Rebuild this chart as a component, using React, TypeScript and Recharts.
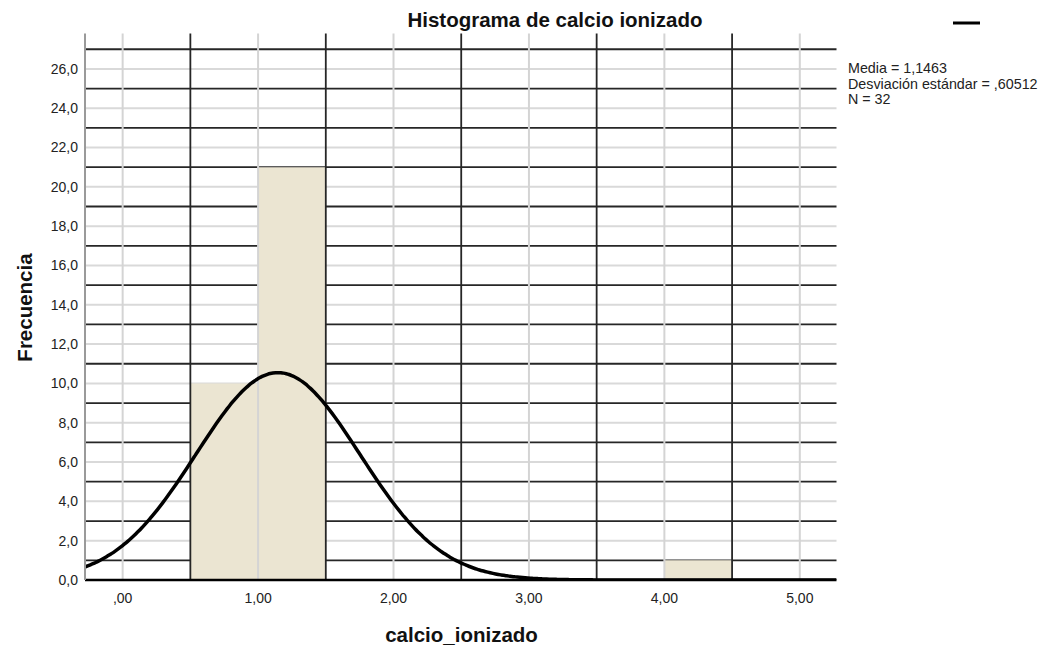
import React from 'react';
import {
  ComposedChart,
  Line,
  XAxis,
  YAxis,
  ReferenceArea,
  ReferenceLine,
} from 'recharts';

// histogram bins (lower edge) and counts
const binStarts = [0.5, 1.0, 1.5, 2.0, 2.5, 3.0, 3.5, 4.0];
const binCounts = [10, 21, 0, 0, 0, 0, 0, 1];
const binWidth = 0.5;

// fitted normal curve parameters shown in the legend
const mean = 1.1463;
const sd = 0.60512;
const n = 32;

const xTicks = [0, 1, 2, 3, 4, 5];
const xTickLabels = [',00', '1,00', '2,00', '3,00', '4,00', '5,00'];
const yTicks = [0, 2, 4, 6, 8, 10, 12, 14, 16, 18, 20, 22, 24, 26];
const yTickLabels = ['0,0', '2,0', '4,0', '6,0', '8,0', '10,0', '12,0', '14,0', '16,0', '18,0', '20,0', '22,0', '24,0', '26,0'];

const statLines = ['Media = 1,1463', 'Desviación estándar = ,60512', 'N = 32'];

const xDomain: [number, number] = [-0.278, 5.271];
const yDomain: [number, number] = [0, 27.8];

const lightX = [0, 1, 2, 3, 4, 5];
const darkX = [0.5, 1.5, 2.5, 3.5, 4.5];
const lightY = [2, 4, 6, 8, 10, 12, 14, 16, 18, 20, 22, 24, 26];
const darkY = [1, 3, 5, 7, 9, 11, 13, 15, 17, 19, 21, 23, 25, 27];

// normal density scaled to counts, from the stated mean / sd / N
function normalCurve() {
  const pts = [];
  const steps = 280;
  for (let i = 0; i <= steps; i++) {
    const x = xDomain[0] + ((xDomain[1] - xDomain[0]) * i) / steps;
    const z = (x - mean) / sd;
    const y = (n * binWidth * Math.exp(-0.5 * z * z)) / (sd * Math.sqrt(2 * Math.PI));
    pts.push({ x, y });
  }
  return pts;
}

const FONT = '"Liberation Sans", Arial, sans-serif';

export default function App() {
  const data = normalCurve();

  return (
    <div style={{ position: 'absolute', left: 0, top: 0, width: 1043, height: 648, background: '#fff' }}>
      <ComposedChart
        width={1043}
        height={648}
        data={data}
        margin={{ top: 33.5, right: 206.5, bottom: 28, left: 25 }}
      >
        <XAxis
          dataKey="x"
          type="number"
          domain={xDomain}
          ticks={xTicks}
          allowDataOverflow
          height={40}
          tickSize={0}
          tickMargin={13}
          tickFormatter={(v: number) => xTickLabels[xTicks.indexOf(v)] ?? ''}
          tick={{ fill: '#222', fontSize: 14, fontFamily: FONT }}
          axisLine={{ stroke: '#000', strokeWidth: 2.5 }}
          tickLine={false}
        />
        <YAxis
          type="number"
          domain={yDomain}
          ticks={yTicks}
          allowDataOverflow
          width={60}
          tickSize={0}
          tickMargin={7}
          tickFormatter={(v: number) => yTickLabels[yTicks.indexOf(v)] ?? ''}
          tick={{ fill: '#222', fontSize: 14, fontFamily: FONT }}
          axisLine={{ stroke: '#9a9a9a', strokeWidth: 2 }}
          tickLine={false}
        />

        {lightY.map((v) => (
          <ReferenceLine key={'ly' + v} y={v} stroke="#d9d9d9" strokeWidth={2} zIndex={50} />
        ))}
        {darkY.map((v) => (
          <ReferenceLine key={'dy' + v} y={v} stroke="#262626" strokeWidth={1.8} zIndex={55} />
        ))}

        {binStarts.map((b, i) =>
          binCounts[i] > 0 ? (
            <ReferenceArea
              key={'bin' + b}
              x1={b}
              x2={b + binWidth}
              y1={0}
              y2={binCounts[i]}
              fill="#ebe5d2"
              fillOpacity={1}
              stroke="none"
              zIndex={100}
            />
          ) : null
        )}

        {lightX.map((v) => (
          <ReferenceLine key={'lx' + v} x={v} stroke="#d4d4d4" strokeWidth={2} zIndex={150} />
        ))}
        {darkX.map((v) => (
          <ReferenceLine key={'dx' + v} x={v} stroke="#262626" strokeWidth={1.8} zIndex={155} />
        ))}

        <Line
          dataKey="y"
          type="monotone"
          stroke="#000"
          strokeWidth={3.5}
          dot={false}
          activeDot={false}
          isAnimationActive={false}
          zIndex={400}
        />
      </ComposedChart>

      <svg
        width={1043}
        height={648}
        style={{ position: 'absolute', left: 0, top: 0, pointerEvents: 'none' }}
        fontFamily={FONT}
      >
        <text x={555} y={27} textAnchor="middle" fontSize={20.5} fontWeight="bold" fill="#111">
          Histograma de calcio ionizado
        </text>
        <text
          x={0}
          y={0}
          transform="translate(32,307.5) rotate(-90)"
          textAnchor="middle"
          fontSize={20.5}
          fontWeight="bold"
          fill="#111"
        >
          Frecuencia
        </text>
        <text x={461.5} y={642} textAnchor="middle" fontSize={20.5} fontWeight="bold" fill="#111">
          calcio_ionizado
        </text>
        <line x1={953} y1={23} x2={980} y2={23} stroke="#000" strokeWidth={3} />
        {statLines.map((s, i) => (
          <text key={s} x={848} y={73 + i * 15.5} fontSize={14.3} fill="#222">
            {s}
          </text>
        ))}
      </svg>
    </div>
  );
}
